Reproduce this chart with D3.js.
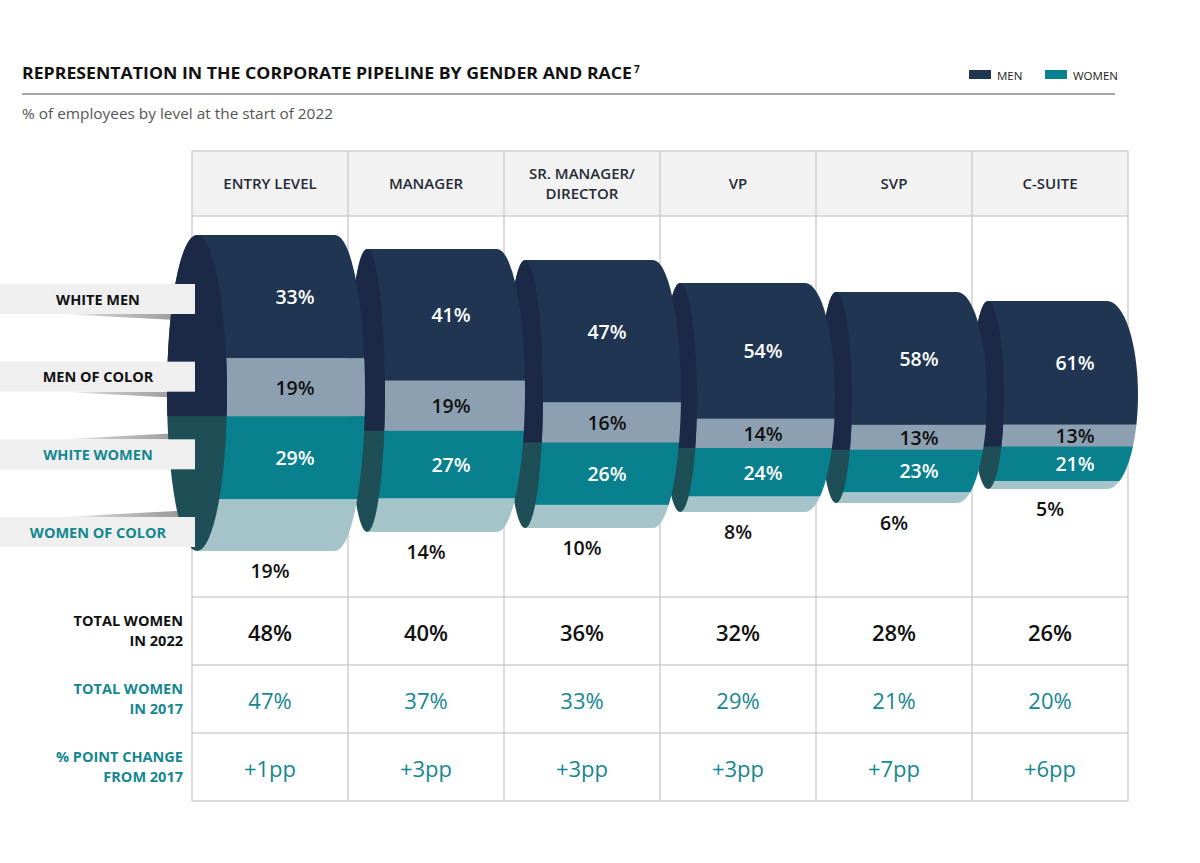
<!DOCTYPE html>
<html>
<head>
<meta charset="utf-8">
<script src="https://cdn.jsdelivr.net/npm/d3@7"></script>
<style>
  html, body { margin: 0; padding: 0; background: #ffffff; }
  svg { display: block; font-family: "Open Sans", Lato, sans-serif; }
</style>
</head>
<body>
<svg id="chart" width="1200" height="863"></svg>
<script>
// ---------------- DATA ----------------
const levels = ["ENTRY LEVEL", "MANAGER", "SR. MANAGER/DIRECTOR", "VP", "SVP", "C-SUITE"];
const levelHeaderLines = [["ENTRY LEVEL"], ["MANAGER"], ["SR. MANAGER/", "DIRECTOR"], ["VP"], ["SVP"], ["C-SUITE"]];
const segments = ["WHITE MEN", "MEN OF COLOR", "WHITE WOMEN", "WOMEN OF COLOR"];
const whiteMen     = [33, 41, 47, 54, 58, 61];
const menOfColor   = [19, 19, 16, 14, 13, 13];
const whiteWomen   = [29, 27, 26, 24, 23, 21];
const womenOfColor = [19, 14, 10, 8, 6, 5];
const totalWomen2022 = [48, 40, 36, 32, 28, 26];
const totalWomen2017 = [47, 37, 33, 29, 21, 20];
const pointChange    = [1, 3, 3, 3, 7, 6];
const rowLabels = [["TOTAL WOMEN", "IN 2022"], ["TOTAL WOMEN", "IN 2017"], ["% POINT CHANGE", "FROM 2017"]];
const legendItems = ["MEN", "WOMEN"];

// ---------------- LAYOUT / STYLE ----------------
const C = {
  navy: "#1f3552", navyCap: "#1b2946", grey: "#8da0b2", teal: "#08808d",
  light: "#a4c4ca", tealCap: "#1e4e56", tealText: "#158791",
  grid: "#cfcfcf", header: "#f2f2f2", ink: "#111111"
};
const segFill = [C.navy, C.grey, C.teal, C.light];
const segText = ["#ffffff", C.ink, "#ffffff", C.ink];

// cylinder geometry (layout only)
const cylTop    = [235, 249, 260, 283, 292, 301];
const cylBottom = [551, 532, 528, 512, 503, 489];
const capOffset = [5, 19, 21, 20, 20, 16];     // cap centre from column left
const capRx     = [30, 18, 18, 17, 16, 16];
const endOffset = [143, 149, 149, 145, 141, 135]; // right arc start from column left
const endRx     = [30, 28, 28, 30, 30, 31];

const svg = d3.select("#chart");
const defs = svg.append("defs");

const x = d3.scaleBand().domain(levels).range([192, 1128]).padding(0);
const bw = x.bandwidth();

const tableTop = 151, headerBottom = 216, rowsTop = 597, rowH = 68;
const rowY = d3.scaleBand().domain(d3.range(rowLabels.length)).range([rowsTop, rowsTop + rowH * rowLabels.length]);

// ---------------- TITLE ----------------
const title = svg.append("text").attr("x", 22).attr("y", 79)
  .attr("font-size", 15.5).attr("font-weight", 700).attr("fill", "#111");
title.append("tspan").attr("textLength", 610).attr("lengthAdjust", "spacingAndGlyphs")
  .text("REPRESENTATION IN THE CORPORATE PIPELINE BY GENDER AND RACE");
title.append("tspan").attr("font-size", 10).attr("dx", 2).attr("dy", -6).text("7");

svg.append("line").attr("x1", 22).attr("x2", 1115).attr("y1", 94).attr("y2", 94)
  .attr("stroke", "#8a8a8a").attr("stroke-width", 1.5);

svg.append("text").attr("x", 22).attr("y", 119).attr("font-size", 14.5)
  .attr("fill", "#555").attr("textLength", 311).attr("lengthAdjust", "spacingAndGlyphs")
  .text("% of employees by level at the start of 2022");

// legend
const legendX = d3.scaleOrdinal().domain(legendItems).range([969, 1045]);
const legendFill = d3.scaleOrdinal().domain(legendItems).range([C.navy, C.teal]);
const lg = svg.append("g").selectAll("g").data(legendItems).join("g")
  .attr("transform", d => `translate(${legendX(d)},70)`);
lg.append("rect").attr("width", 22).attr("height", 9).attr("fill", d => legendFill(d));
lg.append("text").attr("x", 28).attr("y", 9.5).attr("font-size", 11.5).attr("fill", "#222").text(d => d);

// ---------------- TABLE GRID ----------------
const grid = svg.append("g");
grid.append("rect").attr("x", x.range()[0]).attr("y", tableTop)
  .attr("width", bw * levels.length).attr("height", headerBottom - tableTop).attr("fill", C.header);

const vx = levels.map(l => x(l)).concat([x.range()[1]]);
grid.selectAll("line.v").data(vx).join("line").attr("class", "v")
  .attr("x1", d => d).attr("x2", d => d).attr("y1", tableTop).attr("y2", rowsTop + rowH * 3)
  .attr("stroke", C.grid).attr("stroke-width", 1.5);
const hy = [tableTop, headerBottom, rowsTop, rowsTop + rowH, rowsTop + 2 * rowH, rowsTop + 3 * rowH];
grid.selectAll("line.h").data(hy).join("line").attr("class", "h")
  .attr("x1", x.range()[0]).attr("x2", x.range()[1]).attr("y1", d => d).attr("y2", d => d)
  .attr("stroke", C.grid).attr("stroke-width", 1.5);

// header text
const hdr = svg.append("g").selectAll("text").data(levels).join("text")
  .attr("x", d => x(d) + bw / 2).attr("text-anchor", "middle")
  .attr("font-size", 15).attr("font-weight", 600).attr("fill", "#262b36");
hdr.each(function(d, i) {
  const lines = levelHeaderLines[i];
  const mid = (tableTop + headerBottom) / 2;
  const start = mid + 5.5 - (lines.length - 1) * 10;
  d3.select(this).selectAll("tspan").data(lines).join("tspan")
    .attr("x", x(d) + bw / 2).attr("y", (t, j) => start + j * 20).text(t => t);
});

// ---------------- SIDE LABEL SHADOWS ----------------
const boxY = d3.scalePoint().domain(segments).range([299, 532]);
const boxH = 30, boxW = 195;
const sg = defs.append("linearGradient").attr("id", "shade").attr("x1", 0).attr("x2", 1).attr("y1", 0).attr("y2", 0);
sg.append("stop").attr("offset", 0).attr("stop-color", "#bdbdbd").attr("stop-opacity", 0);
sg.append("stop").attr("offset", 0.35).attr("stop-color", "#b5b5b5").attr("stop-opacity", 0.8);
sg.append("stop").attr("offset", 1).attr("stop-color", "#8e8e8e").attr("stop-opacity", 1);

svg.append("g").selectAll("path").data(segments).join("path")
  .attr("fill", "url(#shade)")
  .attr("d", (d, i) => {
    const cy = boxY(d);
    if (i < 2) {
      const b = cy + boxH / 2;
      return `M60,${b} L${boxW},${b} L${boxW},${b + 7} Z`;
    } else {
      const t = cy - boxH / 2;
      return `M60,${t} L${boxW},${t} L${boxW},${t - 7} Z`;
    }
  });

// ---------------- CYLINDERS ----------------
const series = [whiteMen, menOfColor, whiteWomen, womenOfColor];
const cylData = levels.map((lvl, i) => {
  const vals = series.map(s => s[i]);
  const total = d3.sum(vals);
  const y = d3.scalePow().exponent(0.85).domain([0, total]).range([cylTop[i], cylBottom[i]]);
  let cum = 0;
  const bands = vals.map((v, k) => { const b = { k, v, y0: y(cum), y1: y(cum + v) }; cum += v; return b; });
  const left = x(lvl);
  return {
    i, lvl, y, bands,
    cx: left + capOffset[i], rx: capRx[i],
    rEnd: left + endOffset[i], erx: endRx[i],
    top: cylTop[i], bottom: cylBottom[i], colMid: left + bw / 2
  };
});

const cylLayer = svg.append("g");
// draw from right to left so nearer (left) cylinders overlap caps of the next
cylData.slice().reverse().forEach(c => {
  const ry = (c.bottom - c.top) / 2;
  const bodyPath = `M${c.cx},${c.top} L${c.rEnd},${c.top} A${c.erx},${ry} 0 0 1 ${c.rEnd},${c.bottom} L${c.cx},${c.bottom} Z`;
  const clipId = "body" + c.i;
  defs.append("clipPath").attr("id", clipId).append("path").attr("d", bodyPath);
  const g = cylLayer.append("g");
  g.append("g").attr("clip-path", `url(#${clipId})`)
    .selectAll("rect").data(c.bands).join("rect")
    .attr("x", c.cx).attr("width", c.rEnd + c.erx - c.cx + 2)
    .attr("y", b => b.y0).attr("height", b => b.y1 - b.y0 + (b.k < 3 ? 0.5 : 0))
    .attr("fill", b => segFill[b.k]);
  // cap
  const capClip = "cap" + c.i;
  const split = c.bands[1].y1;
  defs.append("clipPath").attr("id", capClip).append("rect")
    .attr("x", c.cx - c.rx - 2).attr("y", c.top - 2).attr("width", c.rx * 2 + 4).attr("height", split - c.top + 2);
  const cy = (c.top + c.bottom) / 2;
  g.append("ellipse").attr("cx", c.cx).attr("cy", cy).attr("rx", c.rx).attr("ry", ry).attr("fill", C.tealCap);
  g.append("ellipse").attr("cx", c.cx).attr("cy", cy).attr("rx", c.rx).attr("ry", ry)
    .attr("fill", C.navyCap).attr("clip-path", `url(#${capClip})`);
});

// value labels
const lab = svg.append("g").attr("font-weight", 600).attr("font-size", 19.5).attr("text-anchor", "middle");
cylData.forEach(c => {
  c.bands.forEach(b => {
    const last = b.k === 3;
    lab.append("text")
      .attr("x", last ? c.colMid : c.colMid + 25)
      .attr("y", last ? c.bottom + 19 : (b.y0 + b.y1) / 2)
      .attr("dominant-baseline", "central")
      .attr("fill", segText[b.k])
      .text(b.v + "%");
  });
});

// ---------------- SIDE LABEL BOXES ----------------
const sideG = svg.append("g").selectAll("g").data(segments).join("g")
  .attr("transform", d => `translate(0,${boxY(d) - boxH / 2})`);
sideG.append("rect").attr("width", boxW).attr("height", boxH).attr("fill", "#efefef");
sideG.append("text").attr("x", 98).attr("y", boxH / 2).attr("dominant-baseline", "central")
  .attr("text-anchor", "middle").attr("font-size", 14.5).attr("font-weight", 700)
  .attr("fill", (d, i) => i < 2 ? C.ink : C.tealText).text(d => d);

// ---------------- BOTTOM ROWS ----------------
const rowColor = [C.ink, C.tealText, C.tealText];
const rowValues = [
  totalWomen2022.map(v => v + "%"),
  totalWomen2017.map(v => v + "%"),
  pointChange.map(v => "+" + v + "pp")
];
rowLabels.forEach((lines, r) => {
  const mid = rowY(r) + rowH / 2;
  svg.append("text").attr("text-anchor", "end").attr("font-size", 14.5).attr("font-weight", 700)
    .attr("fill", rowColor[r])
    .selectAll("tspan").data(lines).join("tspan")
    .attr("x", 183).attr("y", (t, j) => mid - 5 + j * 20).text(t => t);
  svg.append("g").selectAll("text").data(levels).join("text")
    .attr("x", d => x(d) + bw / 2).attr("y", mid + 1).attr("dominant-baseline", "central")
    .attr("text-anchor", "middle").attr("font-size", 22)
    .attr("font-weight", r === 0 ? 600 : 500).attr("fill", rowColor[r])
    .text((d, i) => rowValues[r][i]);
});
</script>
</body>
</html>
